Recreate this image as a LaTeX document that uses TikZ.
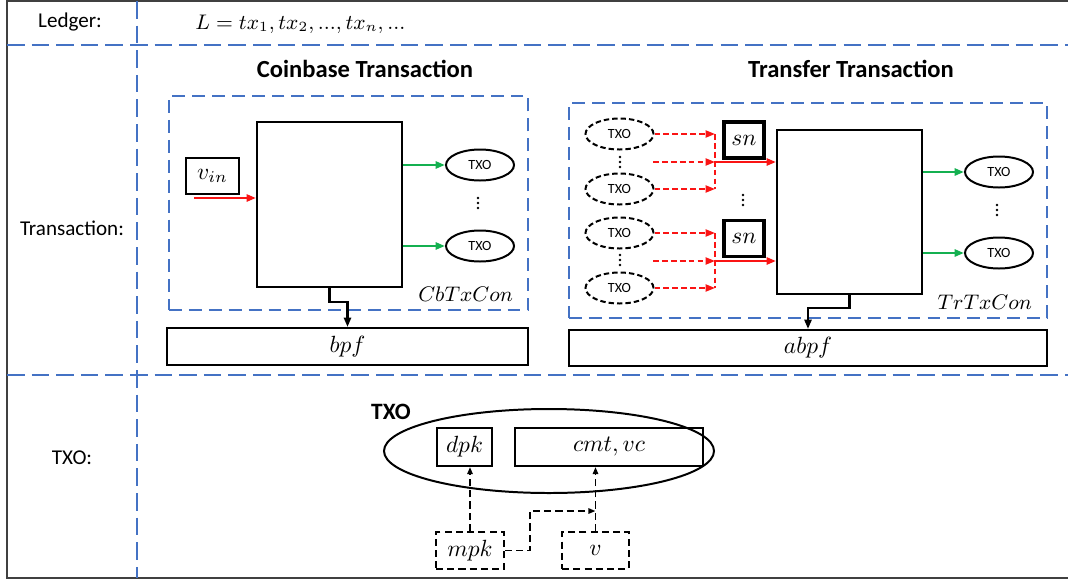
\documentclass[tikz,border=0pt]{standalone}
\usepackage{fontspec}
\setmainfont{Carlito}
\usepackage{tikz}
\usetikzlibrary{positioning, arrows.meta, calc, shapes.geometric}
\definecolor{SepBlue}{RGB}{68,114,196}
\definecolor{ArrRed}{RGB}{250,20,20}
\definecolor{ArrGreen}{RGB}{20,176,80}

\tikzset{
  % small column of three dots
  dotcol/.pic={
    \foreach \d in {-5,0,5} \fill (0,\d) circle (0.55pt);
  }
}

\begin{document}
\begin{tikzpicture}[x=0.015cm, y=-0.015cm,
    sep/.style={SepBlue, line width=1.1pt, dash pattern=on 7.5pt off 3pt},
    con/.style={rectangle, draw=SepBlue, line width=1.1pt,
                dash pattern=on 5.5pt off 3pt, inner sep=0pt},
    box/.style={rectangle, draw, line width=0.85pt, inner sep=0pt,
                font=\fontsize{10}{12}\selectfont},
    snbox/.style={box, line width=1.7pt, minimum width=0.6cm, minimum height=0.54cm},
    dbox/.style={box, dash pattern=on 3pt off 1.8pt},
    txo/.style={ellipse, draw, line width=0.85pt, minimum width=1.02cm,
                minimum height=0.465cm, inner sep=0pt, font=\fontsize{6}{7}\selectfont},
    txod/.style={txo, dash pattern=on 2.3pt off 1.3pt},
    lbl/.style={font=\fontsize{9}{11}\selectfont},
    ttl/.style={font=\fontsize{10.5}{12}\selectfont\bfseries},
    redarr/.style={-{Stealth[length=4pt, inset=0pt]}, ArrRed, line width=1.1pt},
    reddash/.style={redarr, line width=0.8pt, dash pattern=on 2.5pt off 1.3pt},
    grnarr/.style={-{Stealth[length=4pt, inset=0pt]}, ArrGreen, line width=1.1pt},
    blkarr/.style={-{Stealth[length=4pt, inset=0pt]}, line width=1.1pt},
    dasharr/.style={-{Stealth[length=3pt, inset=0pt]}, line width=0.8pt,
                    dash pattern=on 3pt off 1.8pt}
  ]
  \useasboundingbox (0,0) rectangle (1068,583);

  % frame and rows
  \draw[black!75, line width=0.9pt] (1068,1) -- (7,1) -- (7,578) -- (1068,578);
  \draw[sep] (7,45) -- (1068,45);
  \draw[sep] (7,375) -- (1068,375);
  \draw[sep] (137,1) -- (137,578);

  \node[lbl] (ledger) at (70,22)  {Ledger:};
  \node[lbl] (trans)  at (72,228) {Transaction:};
  \node[lbl] (txorow) at (72,458) {TXO:};
  \node[lbl, font=\fontsize{9.2}{11}\selectfont, anchor=west] (ledgerf) at (187,24)
        {$L = tx_1, tx_2, ..., tx_n, ...$};

  % Coinbase transaction
  \node[ttl] (cbttl) at (365,69) {Coinbase Transaction};
  \node[con, minimum width=5.385cm, minimum height=3.21cm] (cbcon) at (348.5,203) {};
  \node[box, minimum width=2.175cm, minimum height=2.475cm] (cbbox) at (329.5,204.5) {};
  \node[box, minimum width=0.795cm, minimum height=0.54cm] (vin) at (212.5,176) {$v_{in}$};
  \node[txo] (cbo1) at (480,165) {TXO};
  \node[txo] (cbo2) at (480,246) {TXO};
  \pic (cbdots) at (478,203) {dotcol};
  \node[lbl, anchor=south east]
        (cbname) [above left=0.02cm and 0.12cm of cbcon.south east] {$CbTxCon$};
  \node[box, minimum width=5.415cm, minimum height=0.555cm] (bpf) at (347.5,346.5) {$bpf$};
  \coordinate (vinsrc) at (194,198);

  \draw[redarr] (vinsrc) -- (vinsrc -| cbbox.west);
  \draw[grnarr] (cbo1 -| cbbox.east) -- (cbo1.west);
  \draw[grnarr] (cbo2 -| cbbox.east) -- (cbo2.west);
  \draw[blkarr] (cbbox.south) -- ++(0,14) -| (bpf.north);

  % Transfer transaction
  \node[ttl] (trttl) at (851,69) {Transfer Transaction};
  \node[con, minimum width=7.17cm, minimum height=3.225cm] (trcon) at (808,210.5) {};
  \node[box, minimum width=2.175cm, minimum height=2.46cm] (trbox) at (849.5,212) {};
  \node[snbox] (sn1) at (744,140) {$sn$};
  \node[snbox] (sn2) at (744,238.5) {$sn$};
  \pic (sndots) at (743,200) {dotcol};
  \node[txod] (in1) at (619.5,134) {TXO};
  \node[txod] (in2) at (619.5,189) {TXO};
  \node[txod] (in3) at (619.5,233) {TXO};
  \node[txod] (in4) at (619.5,288) {TXO};
  \pic (indots1) at (620,162) {dotcol};
  \pic (indots2) at (620,260) {dotcol};
  \node[txo] (tro1) at (999,172) {TXO};
  \node[txo] (tro2) at (999,253) {TXO};
  \pic (trdots) at (997,210) {dotcol};
  \node[lbl, font=\fontsize{8.8}{10}\selectfont, anchor=south east]
        (trname) [above left=0.02cm and 0.12cm of trcon.south east] {$TrTxCon$};
  \node[box, minimum width=7.17cm, minimum height=0.54cm] (abpf) at (808,348) {$abpf$};
  \coordinate (j1) at (715,162);
  \coordinate (j2) at (715,261);
  \coordinate (mid1) at (653,162);
  \coordinate (mid2) at (653,261);

  \draw[reddash] (in1.east) -- (in1.east -| j1);
  \draw[reddash] (mid1) -- (j1);
  \draw[reddash] (in2.east) -- (in2.east -| j1);
  \draw[reddash, -] (in1.east -| j1) -- (in2.east -| j1);
  \draw[reddash] (in3.east) -- (in3.east -| j2);
  \draw[reddash] (mid2) -- (j2);
  \draw[reddash] (in4.east) -- (in4.east -| j2);
  \draw[reddash, -] (in3.east -| j2) -- (in4.east -| j2);
  \draw[redarr] (j1) -- (j1 -| trbox.west);
  \draw[redarr] (j2) -- (j2 -| trbox.west);
  \draw[grnarr] (tro1 -| trbox.east) -- (tro1.west);
  \draw[grnarr] (tro2 -| trbox.east) -- (tro2.west);
  \draw[blkarr] (trbox.south) -- ++(0,13) -| (abpf.north);

  % TXO structure
  \node[ellipse, draw, line width=0.85pt, minimum width=4.95cm, minimum height=1.26cm]
        (txo) at (549,451) {};
  \node[ttl, font=\fontsize{10}{12}\selectfont\bfseries] (txottl) at (391,412) {TXO};
  \node[box, minimum width=0.825cm, minimum height=0.57cm] (dpk) at (464.5,447) {$dpk$};
  \node[box, minimum width=2.82cm, minimum height=0.57cm] (cmt) at (609,447) {$cmt, vc$};
  \node[dbox, minimum width=1.02cm, minimum height=0.555cm] (mpk) at (470,550.5) {$mpk$};
  \node[dbox, minimum width=1.0cm, minimum height=0.555cm] (v) at (595.5,550.5) {$v$};
  \coordinate (vjoin) at (595.5,511);

  \draw[dasharr] (mpk.north) -- (mpk.north |- dpk.south);
  \draw[dasharr] (v.north) -- (v.north |- cmt.south);
  \draw[dasharr] (mpk.east) -- ++(25,0) |- (vjoin);
\end{tikzpicture}
\end{document}
